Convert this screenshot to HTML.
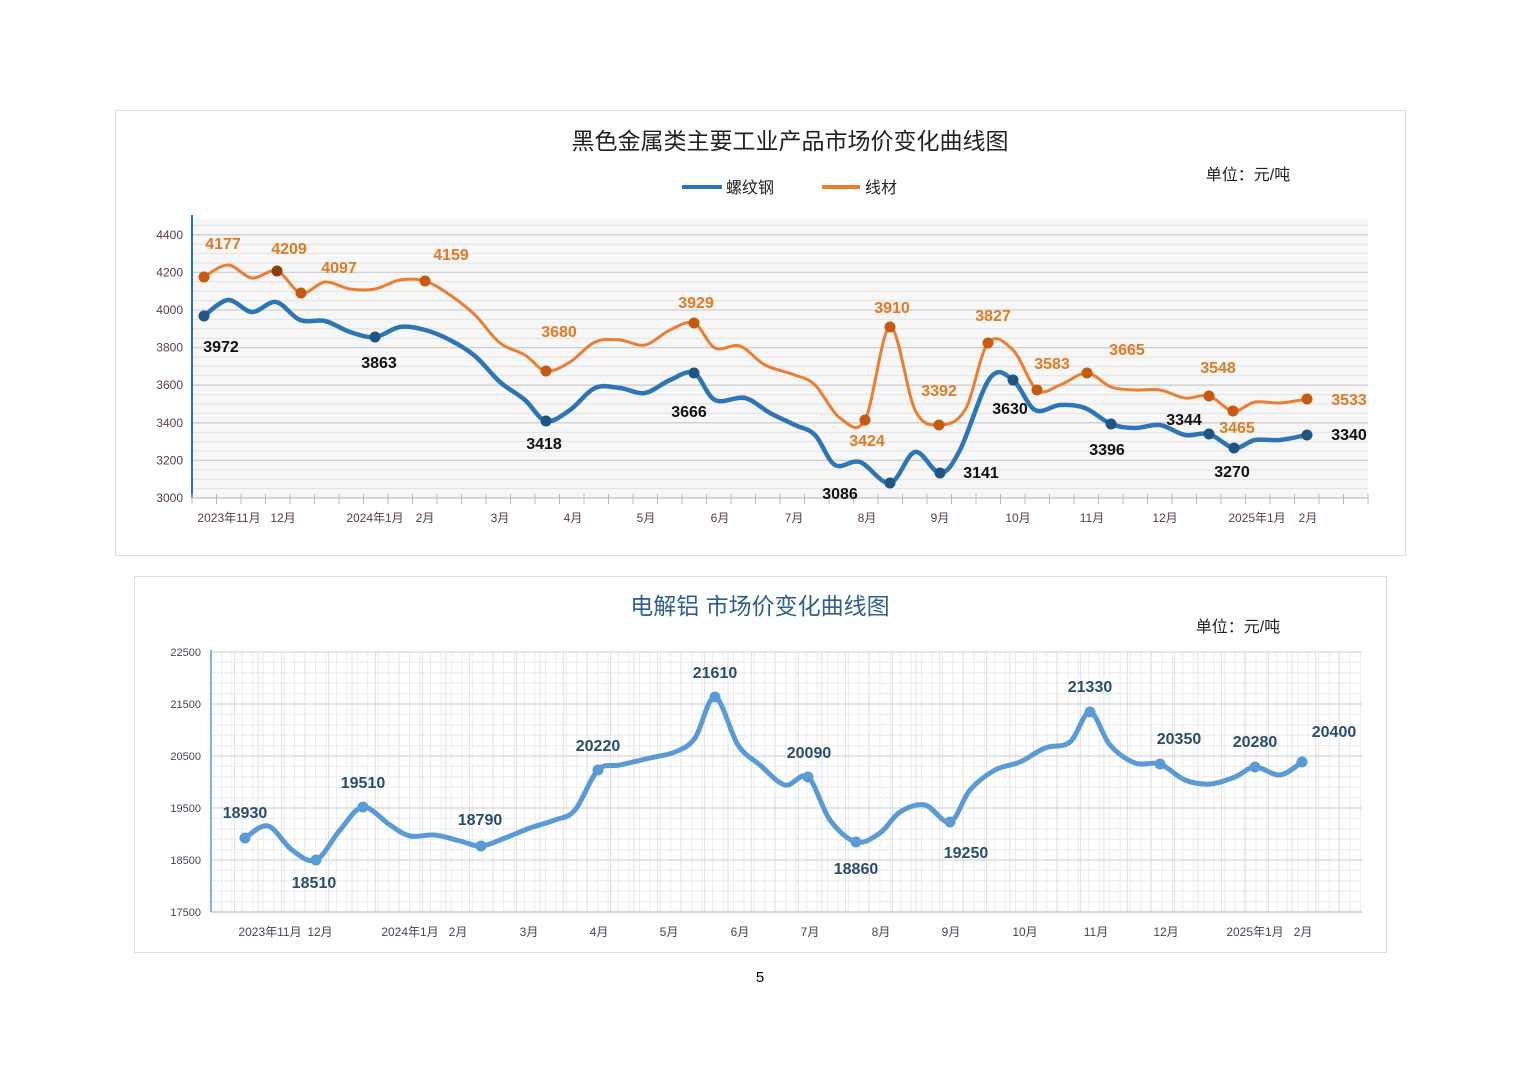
<!DOCTYPE html>
<html><head><meta charset="utf-8"><style>
body{margin:0;background:#fff;}
svg{display:block;font-family:"Liberation Sans","Noto Sans CJK SC",sans-serif;}
</style></head><body>
<svg id="s" width="1520" height="1074" viewBox="0 0 1520 1074" xmlns="http://www.w3.org/2000/svg">
<rect x="115.5" y="110.5" width="1290" height="445" fill="#fff" stroke="#ddd"/>
<rect x="134.5" y="576.5" width="1252" height="376" fill="#fff" stroke="#ddd"/>
<g id="g1"></g>
<text x="790" y="149" font-size="23" text-anchor="middle" fill="#222">黑色金属类主要工业产品市场价变化曲线图</text>
<text x="1248" y="180" font-size="16" text-anchor="middle" fill="#222">单位：元/吨</text>
<line x1="682" y1="187" x2="722" y2="187" stroke="#2e75b6" stroke-width="4"/>
<text x="726" y="193" font-size="16" fill="#222">螺纹钢</text>
<line x1="822" y1="187" x2="860" y2="187" stroke="#ed7d31" stroke-width="4"/>
<text x="865" y="193" font-size="16" fill="#222">线材</text>
<text x="760" y="614" font-size="23" text-anchor="middle" fill="#2f5f8f">电解铝  市场价变化曲线图</text>
<text x="1238" y="632" font-size="16" text-anchor="middle" fill="#222">单位：元/吨</text>
<text x="760" y="982" font-size="15" text-anchor="middle" fill="#000">5</text>
</svg>
<script>
var NS="http://www.w3.org/2000/svg",g=document.getElementById('g1');
function el(t,a,txt){var e=document.createElementNS(NS,t);for(var k in a)e.setAttribute(k,a[k]);if(txt!=null)e.textContent=txt;g.appendChild(e);return e;}
function cr(p){var d="M"+p[0][0]+","+p[0][1];for(var i=0;i<p.length-1;i++){var p0=p[i-1]||p[i],p1=p[i],p2=p[i+1],p3=p[i+2]||p2;
d+=" C"+(p1[0]+(p2[0]-p0[0])/6)+","+(p1[1]+(p2[1]-p0[1])/6)+" "+(p2[0]-(p3[0]-p1[0])/6)+","+(p2[1]-(p3[1]-p1[1])/6)+" "+p2[0]+","+p2[1];}return d;}
// top chart grid
el('rect',{x:192,y:218,width:1176,height:280,fill:'#f7f7f7'});
for(var y=498;y>=220;y-=9.4){el('line',{x1:192,x2:1368,y1:y,y2:y,stroke:'#e4e4e4','stroke-width':1});}
for(var i=0;i<8;i++){var y=498-i*37.6;el('line',{x1:192,x2:1368,y1:y,y2:y,stroke:'#cfcfcf','stroke-width':1.3});
el('text',{x:183,y:y+4,'font-size':12,'text-anchor':'end',fill:'#5a3a4a'},3000+i*200);}
el('line',{x1:192,x2:192,y1:215,y2:498,stroke:'#2e6fa6','stroke-width':2});
el('line',{x1:192,x2:1368,y1:498,y2:498,stroke:'#bbb'});
for(var x=192;x<=1368;x+=24.5){el('line',{x1:x,x2:x,y1:494,y2:504,stroke:'#bbb'});}
var xl=[[229,'2023年11月'],[283,'12月'],[375,'2024年1月'],[425,'2月'],[500,'3月'],[573,'4月'],[646,'5月'],[720,'6月'],[794,'7月'],[867,'8月'],[940,'9月'],[1018,'10月'],[1092,'11月'],[1165,'12月'],[1257,'2025年1月'],[1308,'2月']];
xl.forEach(function(a){el('text',{x:a[0],y:522,'font-size':12,'text-anchor':'middle',fill:'#5a3a4a'},a[1]);});
var B=[[204,316],[228,300],[252,312],[276,302],[300,320],[325,321],[350,332],[375,337],[400,327],[425,330],[450,340],[475,356],[500,382],[525,400],[546,421],[570,410],[595,388],[620,388],[645,393],[670,380],[694,373],[715,400],[745,398],[770,413],[795,425],[815,435],[835,465],[860,462],[890,483],[915,452],[940,473],[960,450],[990,378],[1013,380],[1035,410],[1060,405],[1085,408],[1111,424],[1135,428],[1160,425],[1185,435],[1209,434],[1234,448],[1255,440],[1280,440],[1307,435]];
var O=[[204,277],[228,265],[252,278],[277,271],[301,293],[325,282],[350,289],[375,289],[400,280],[425,281],[450,295],[475,315],[500,343],[525,355],[546,371],[570,362],[595,342],[620,340],[645,345],[670,330],[694,323],[715,348],[740,346],[765,365],[795,375],[815,385],[840,418],[865,420],[890,327],[915,410],[939,425],[965,410],[988,343],[1013,350],[1037,390],[1060,385],[1087,373],[1111,387],[1135,390],[1160,390],[1185,398],[1209,396],[1233,411],[1255,402],[1280,403],[1307,399]];
el('path',{d:cr(O),fill:'none',stroke:'#ed7d31','stroke-width':3});
el('path',{d:cr(B),fill:'none',stroke:'#2e75b6','stroke-width':4.5});
var om=[[204,277,'4177',223,249],[277,271,'4209',289,254,'#8b3e10'],[301,293,'4097',339,273],[425,281,'4159',451,260],[546,371,'3680',559,337],[694,323,'3929',696,308],[865,420,'3424',867,446],[890,327,'3910',892,313],[939,425,'3392',939,396],[988,343,'3827',993,321],[1037,390,'3583',1052,369],[1087,373,'3665',1127,355],[1209,396,'3548',1218,373],[1233,411,'3465',1237,433],[1307,399,'3533',1349,405]];
om.forEach(function(a){el('circle',{cx:a[0],cy:a[1],r:5.5,fill:a[5]||'#c55a11'});el('text',{x:a[3],y:a[4],'font-size':16,'font-weight':'bold','text-anchor':'middle',fill:'#e07b24'},a[2]);});
var bm=[[204,316,'3972',221,352],[375,337,'3863',379,368],[546,421,'3418',544,449],[694,373,'3666',689,417],[890,483,'3086',840,499],[940,473,'3141',981,478],[1013,380,'3630',1010,414],[1111,424,'3396',1107,455],[1209,434,'3344',1184,425],[1234,448,'3270',1232,477],[1307,435,'3340',1349,440]];
bm.forEach(function(a){el('circle',{cx:a[0],cy:a[1],r:5.5,fill:'#1f5582'});el('text',{x:a[3],y:a[4],'font-size':16,'font-weight':'bold','text-anchor':'middle',fill:'#111'},a[2]);});
// bottom chart
for(var x=211;x<=1362;x+=10.45){el('line',{x1:x,x2:x,y1:652,y2:912,stroke:'#ececec'});}
for(var y=912;y>=652;y-=10.4){el('line',{x1:211,x2:1362,y1:y,y2:y,stroke:'#ececec'});}
for(var x=211;x<=1362;x+=23.5){el('line',{x1:x,x2:x,y1:652,y2:912,stroke:'#e2e2e2'});}
for(var i=0;i<6;i++){var y=912-i*52;el('line',{x1:211,x2:1362,y1:y,y2:y,stroke:'#d6d6d6','stroke-width':1.3});
el('text',{x:201,y:y+4,'font-size':11,'text-anchor':'end',fill:'#445'},17500+i*1000);}
el('line',{x1:211,x2:211,y1:650,y2:912,stroke:'#5b9bd5','stroke-width':1.5});
el('line',{x1:211,x2:1362,y1:912,y2:912,stroke:'#bbb'});
var xl2=[[270,'2023年11月'],[320,'12月'],[410,'2024年1月'],[458,'2月'],[529,'3月'],[599,'4月'],[669,'5月'],[740,'6月'],[810,'7月'],[881,'8月'],[951,'9月'],[1025,'10月'],[1096,'11月'],[1166,'12月'],[1255,'2025年1月'],[1303,'2月']];
xl2.forEach(function(a){el('text',{x:a[0],y:936,'font-size':12,'text-anchor':'middle',fill:'#445'},a[1]);});
var A=[[245,838],[268,826],[292,850],[316,860],[340,830],[363,807],[390,825],[410,836],[435,835],[460,841],[481,846],[505,838],[530,828],[555,820],[575,810],[598,770],[620,765],[650,758],[675,752],[695,738],[715,697],[738,745],[760,765],[785,785],[808,777],[830,820],[856,842],[880,833],[900,812],[925,805],[950,822],[970,790],[995,770],[1020,762],[1045,748],[1070,742],[1090,712],[1110,745],[1135,763],[1160,764],[1185,780],[1210,784],[1235,777],[1255,767],[1280,775],[1302,762]];
el('path',{d:cr(A),fill:'none',stroke:'#5b9bd5','stroke-width':5});
var am=[[245,838,'18930',245,818],[316,860,'18510',314,888],[363,807,'19510',363,788],[481,846,'18790',480,825],[598,770,'20220',598,751],[715,697,'21610',715,678],[808,777,'20090',809,758],[856,842,'18860',856,874],[950,822,'19250',966,858],[1090,712,'21330',1090,692],[1160,764,'20350',1179,744],[1255,767,'20280',1255,747],[1302,762,'20400',1334,737]];
am.forEach(function(a){el('circle',{cx:a[0],cy:a[1],r:5.5,fill:'#5b9bd5'});el('text',{x:a[3],y:a[4],'font-size':16,'font-weight':'bold','text-anchor':'middle',fill:'#2a4d6e'},a[2]);});
</script>
</body></html>
